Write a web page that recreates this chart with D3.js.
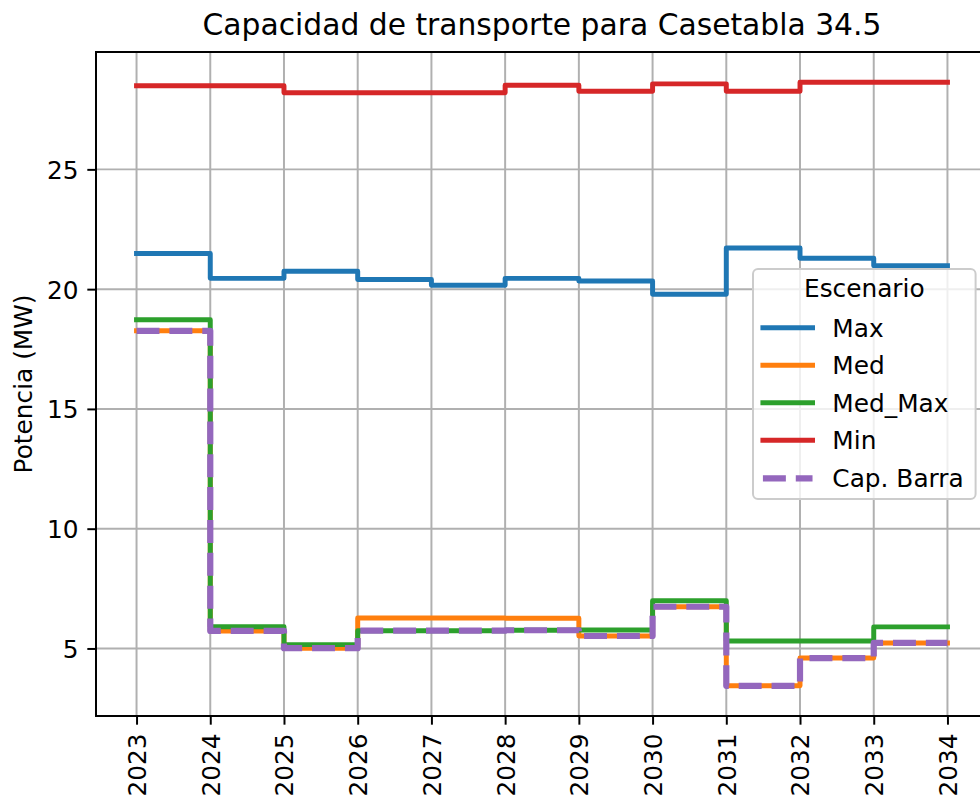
<!DOCTYPE html>
<html>
<head>
<meta charset="utf-8">
<script src="https://cdn.jsdelivr.net/npm/d3@7"></script>
<style>
    body { margin: 0; background: #fff; }
    text { font-family: "DejaVu Sans", sans-serif; fill: #000; }
</style>
</head>
<body>
<svg id="chart"></svg>
<script>
var years = [2023, 2024, 2025, 2026, 2027, 2028, 2029, 2030, 2031, 2032, 2033, 2034];
var maxVals = [21.49, 20.45, 20.75, 20.40, 20.16, 20.45, 20.34, 19.79, 21.72, 21.29, 20.98, 20.98];
var medVals = [18.26, 5.73, 5.01, 6.27, 6.27, 6.26, 5.52, 6.74, 3.44, 4.60, 5.23, 5.23];
var medMaxVals = [18.72, 5.91, 5.16, 5.74, 5.74, 5.76, 5.77, 6.99, 5.31, 5.31, 5.90, 5.90];
var minVals = [28.49, 28.49, 28.20, 28.20, 28.20, 28.51, 28.26, 28.57, 28.26, 28.64, 28.64, 28.64];
var capBarraVals = [18.26, 5.73, 5.01, 5.74, 5.74, 5.76, 5.52, 6.74, 3.44, 4.60, 5.23, 5.23];
var yTicks = [5, 10, 15, 20, 25];

var series = [
    { name: "Max", values: maxVals, color: "#1f77b4", dashed: false },
    { name: "Med", values: medVals, color: "#ff7f0e", dashed: false },
    { name: "Med_Max", values: medMaxVals, color: "#2ca02c", dashed: false },
    { name: "Min", values: minVals, color: "#d62728", dashed: false },
    { name: "Cap. Barra", values: capBarraVals, color: "#9467bd", dashed: true }
];

var chartW = 980,
    chartH = 804,
    pt = 2.48,
    fontSize = 10 * pt,
    axLeft = 96,
    axRight = 988,
    axTop = 52,
    axBottom = 716;

var svg = d3.select("#chart")
    .attr("width", chartW)
    .attr("height", chartH);

// matplotlib-like 5% margins
let xPad = (years[years.length - 1] - years[0]) * 0.05;
let x = d3.scaleLinear()
    .domain([years[0] - xPad, years[years.length - 1] + xPad])
    .range([axLeft, axRight]);

let allVals = [].concat.apply([], series.map(function(s) { return s.values; }));
let yMin = d3.min(allVals), yMax = d3.max(allVals);
let yPad = (yMax - yMin) * 0.05;
let y = d3.scaleLinear()
    .domain([yMin - yPad, yMax + yPad])
    .range([axBottom, axTop]);

// grid
svg.append("g").selectAll("line")
    .data(years)
    .enter().append("line")
    .attr("x1", function(d) { return x(d); })
    .attr("x2", function(d) { return x(d); })
    .attr("y1", axTop)
    .attr("y2", axBottom)
    .attr("stroke", "#b0b0b0")
    .attr("stroke-width", 0.8 * pt);

svg.append("g").selectAll("line")
    .data(yTicks)
    .enter().append("line")
    .attr("x1", axLeft)
    .attr("x2", axRight)
    .attr("y1", function(d) { return y(d); })
    .attr("y2", function(d) { return y(d); })
    .attr("stroke", "#b0b0b0")
    .attr("stroke-width", 0.8 * pt);

// lines
let line = d3.line()
    .x(function(d, i) { return x(years[i]); })
    .y(function(d) { return y(d); })
    .curve(d3.curveStepAfter);

svg.append("g").selectAll("path")
    .data(series)
    .enter().append("path")
    .attr("d", function(d) { return line(d.values); })
    .attr("fill", "none")
    .attr("stroke", function(d) { return d.color; })
    .attr("stroke-width", function(d) { return d.dashed ? 2.5 * pt : 2 * pt; })
    .attr("stroke-dasharray", function(d) { return d.dashed ? (3.7 * 2.5 * pt) + "," + (1.6 * 2.5 * pt) : null; })
    .attr("stroke-linecap", function(d) { return d.dashed ? "butt" : "square"; })
    .attr("stroke-linejoin", "round");

// axes
let xAxis = svg.append("g")
    .attr("transform", "translate(0," + axBottom + ")")
    .call(d3.axisBottom(x)
        .tickValues(years)
        .tickFormat(d3.format("d"))
        .tickSize(3.5 * pt)
        .tickSizeOuter(0)
        .tickPadding(3.5 * pt));
xAxis.select(".domain").remove();
xAxis.selectAll(".tick line").attr("stroke", "#000").attr("stroke-width", 0.8 * pt);
xAxis.selectAll(".tick text")
    .attr("font-size", fontSize)
    .attr("font-family", "DejaVu Sans")
    .attr("transform", "rotate(-90)")
    .attr("x", -7 * pt)
    .attr("y", 0)
    .attr("dy", "0.36em")
    .style("text-anchor", "end");

let yAxis = svg.append("g")
    .attr("transform", "translate(" + axLeft + ",0)")
    .call(d3.axisLeft(y)
        .tickValues(yTicks)
        .tickSize(3.5 * pt)
        .tickSizeOuter(0)
        .tickPadding(3.5 * pt));
yAxis.select(".domain").remove();
yAxis.selectAll(".tick line").attr("stroke", "#000").attr("stroke-width", 0.8 * pt);
yAxis.selectAll(".tick text")
    .attr("font-size", fontSize)
    .attr("font-family", "DejaVu Sans")
    .attr("dy", "0.36em");

// spines
svg.append("rect")
    .attr("x", axLeft)
    .attr("y", axTop)
    .attr("width", axRight - axLeft)
    .attr("height", axBottom - axTop)
    .attr("fill", "none")
    .attr("stroke", "#000")
    .attr("stroke-width", 0.8 * pt);

// title and label
svg.append("text")
    .attr("x", (axLeft + axRight) / 2)
    .attr("y", 35)
    .attr("text-anchor", "middle")
    .attr("font-size", 12 * pt)
    .text("Capacidad de transporte para Casetabla 34.5");

svg.append("text")
    .attr("transform", "translate(31.5," + (axTop + axBottom) / 2 + ") rotate(-90)")
    .attr("text-anchor", "middle")
    .attr("font-size", fontSize)
    .text("Potencia (MW)");

// legend, center right
let legendW = 222.6,
    legendH = 230,
    legendX = axRight - 0.5 * fontSize - legendW,
    legendY = (axTop + axBottom) / 2 - legendH / 2;

let legend = svg.append("g")
    .attr("transform", "translate(" + legendX + "," + legendY + ")");

legend.append("rect")
    .attr("width", legendW)
    .attr("height", legendH)
    .attr("rx", 0.2 * fontSize)
    .attr("fill", "#fff")
    .attr("fill-opacity", 0.8)
    .attr("stroke", "#cccccc")
    .attr("stroke-width", 0.8 * pt);

legend.append("text")
    .attr("x", legendW / 2)
    .attr("y", 19.3)
    .attr("dy", "0.36em")
    .attr("text-anchor", "middle")
    .attr("font-size", fontSize)
    .text("Escenario");

let rowY = [58.7, 96.3, 133.7, 171.3, 209.3];
let hx0 = 0.4 * fontSize,
    hx1 = hx0 + 2 * fontSize;

let rows = legend.selectAll(".row")
    .data(series)
    .enter().append("g")
    .attr("class", "row")
    .attr("transform", function(d, i) { return "translate(0," + rowY[i] + ")"; });

rows.append("line")
    .attr("x1", hx0)
    .attr("x2", hx1)
    .attr("stroke", function(d) { return d.color; })
    .attr("stroke-width", function(d) { return d.dashed ? 2.5 * pt : 2 * pt; })
    .attr("stroke-dasharray", function(d) { return d.dashed ? (3.7 * 2.5 * pt) + "," + (1.6 * 2.5 * pt) : null; })
    .attr("stroke-linecap", function(d) { return d.dashed ? "butt" : "square"; });

rows.append("text")
    .attr("x", hx1 + 0.8 * fontSize)
    .attr("dy", "0.36em")
    .attr("font-size", fontSize)
    .text(function(d) { return d.name; });
</script>
</body>
</html>
